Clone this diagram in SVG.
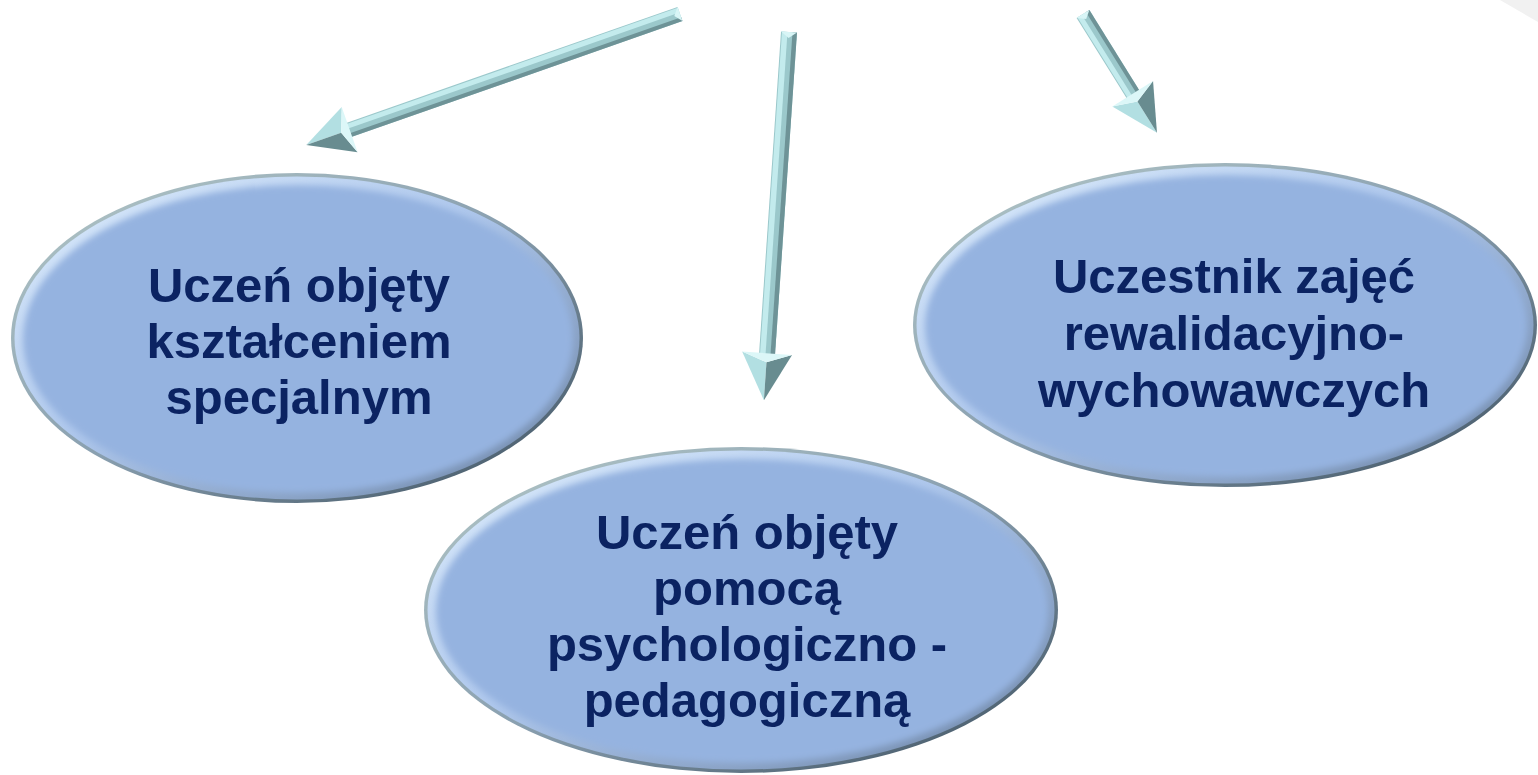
<svg xmlns="http://www.w3.org/2000/svg" width="1538" height="775" viewBox="0 0 1538 775">
  <style>
    .lbl { font-family: "Liberation Sans", Arial, sans-serif; font-weight: bold; font-size: 49px; fill: #0b2362; text-anchor: middle; }
    .rim { fill: url(#rimGrad); }
    .hi { fill: url(#hiGrad); }
    .body { fill: #95b3e0; filter: url(#soft); }
    .sh-mid { fill: #9bc8cb; }
    .sh-lt { fill: #c3ebed; }
    .sh-dk { fill: #6e9397; }
    .hd-lt { fill: #b2dfe2; }
    .hd-dk { fill: #688c90; }
    .hd-bk { fill: #dcf7f8; }
    .cap { fill: #d8f5f6; }
  </style>
  <defs>
    <linearGradient id="rimGrad" x1="0" y1="0" x2="1" y2="1">
      <stop offset="0" stop-color="#b4c8c8"/>
      <stop offset="0.5" stop-color="#8aa0b0"/>
      <stop offset="1" stop-color="#3a4d5c"/>
    </linearGradient>
    <linearGradient id="hiGrad" x1="0" y1="0" x2="1" y2="1">
      <stop offset="0" stop-color="#e0effd"/>
      <stop offset="0.45" stop-color="#aec7ec"/>
      <stop offset="1" stop-color="#6a82a3"/>
    </linearGradient>
    <filter id="soft" x="-5%" y="-5%" width="110%" height="110%">
      <feGaussianBlur stdDeviation="3"/>
    </filter>
  </defs>

  <rect width="1538" height="775" fill="#ffffff"/>
  <polygon points="1500,0 1538,0 1538,22" fill="#f1f1f1"/>

  <g id="connectors">
    <g id="arrow-left" transform="translate(680,14) rotate(160.7)">
      <rect class="sh-mid" x="0" y="-7.5" width="351" height="15"/>
      <rect class="sh-lt" x="0" y="1.5" width="351" height="5"/>
      <rect class="sh-dk" x="0" y="-7.5" width="351" height="4"/>
      <polygon class="cap" points="0,7.5 0,-7.5 6,0"/>
      <polygon class="hd-lt" points="350,24 396,0 359,0"/>
      <polygon class="hd-dk" points="350,-24 396,0 359,0"/>
      <polygon class="hd-bk" points="350,24 359,0 350,-24"/>
    </g>
    <g id="arrow-middle" transform="translate(789,32) rotate(93.9)">
      <rect class="sh-mid" x="0" y="-8" width="323" height="16"/>
      <rect class="sh-lt" x="0" y="1.5" width="323" height="5.5"/>
      <rect class="sh-dk" x="0" y="-8" width="323" height="4.5"/>
      <polygon class="cap" points="0,8 0,-8 6,0"/>
      <polygon class="hd-lt" points="322,25 369,0 331,0"/>
      <polygon class="hd-dk" points="322,-25 369,0 331,0"/>
      <polygon class="hd-bk" points="322,25 331,0 322,-25"/>
    </g>
    <g id="arrow-right" transform="translate(1083,14) rotate(58.1)">
      <rect class="sh-mid" x="0" y="-7.5" width="95" height="15"/>
      <rect class="sh-lt" x="0" y="1.5" width="95" height="5"/>
      <rect class="sh-dk" x="0" y="-7.5" width="95" height="4"/>
      <polygon class="cap" points="0,7.5 0,-7.5 6,0"/>
      <polygon class="hd-lt" points="94,24 140,0 103,0"/>
      <polygon class="hd-dk" points="94,-24 140,0 103,0"/>
      <polygon class="hd-bk" points="94,24 103,0 94,-24"/>
    </g>
  </g>

  <g id="node-ksztalcenie">
    <ellipse class="rim" cx="297" cy="338" rx="286" ry="165"/>
    <ellipse class="hi" cx="297" cy="338" rx="282.5" ry="161.5"/>
    <ellipse class="body" cx="298" cy="339" rx="275" ry="154"/>
    <text class="lbl" x="299" y="302">Uczeń objęty</text>
    <text class="lbl" x="299" y="358">kształceniem</text>
    <text class="lbl" x="299" y="414">specjalnym</text>
  </g>

  <g id="node-pomoc">
    <ellipse class="rim" cx="741" cy="610" rx="317" ry="163"/>
    <ellipse class="hi" cx="741" cy="610" rx="313.5" ry="159.5"/>
    <ellipse class="body" cx="742" cy="611" rx="306" ry="152"/>
    <text class="lbl" x="747" y="549">Uczeń objęty</text>
    <text class="lbl" x="747" y="605">pomocą</text>
    <text class="lbl" x="747" y="661">psychologiczno -</text>
    <text class="lbl" x="747" y="717">pedagogiczną</text>
  </g>

  <g id="node-rewalidacja">
    <ellipse class="rim" cx="1225" cy="325" rx="312" ry="162"/>
    <ellipse class="hi" cx="1225" cy="325" rx="308.5" ry="158.5"/>
    <ellipse class="body" cx="1226" cy="326" rx="301" ry="151"/>
    <text class="lbl" x="1234" y="293">Uczestnik zajęć</text>
    <text class="lbl" x="1234" y="350">rewalidacyjno-</text>
    <text class="lbl" x="1234" y="407">wychowawczych</text>
  </g>
</svg>
